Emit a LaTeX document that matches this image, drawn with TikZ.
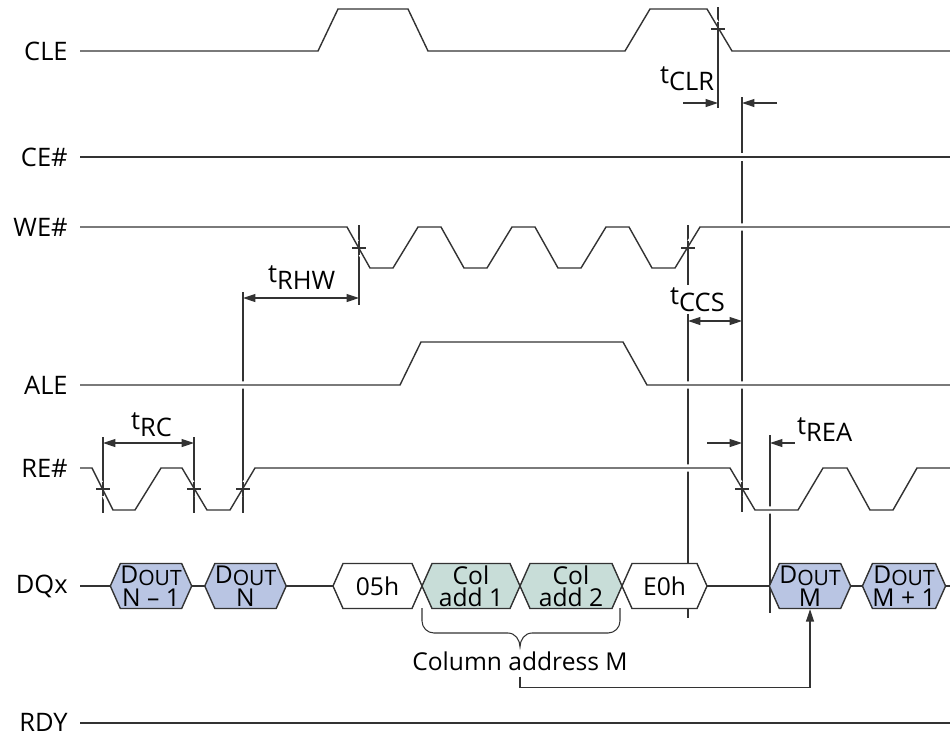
\documentclass[tikz,border=0pt]{standalone}
\usepackage{fontspec}
\setmainfont{Open Sans}
\usetikzlibrary{arrows.meta, shapes.symbols, positioning}

\definecolor{doutblue}{HTML}{B9C5E3}
\definecolor{colteal}{HTML}{C8DDD8}
\definecolor{wire}{HTML}{333333}

\newcommand{\tparm}[1]{t\raisebox{-4.5pt}{#1}}
\newcommand{\dout}[1]{D\raisebox{-1.5pt}{\fontsize{12}{12}\selectfont OUT}\\[0.8pt]#1}

\begin{document}
\begin{tikzpicture}[
    x=0.02cm, y=-0.02cm,
    font=\fontsize{14.5}{15}\selectfont,
    sig/.style = {line width=0.8pt, draw=wire, preaction={draw=white, line width=4pt}},
    guide/.style = {line width=0.6pt, draw=wire},
    tickmark/.style = {line width=0.6pt, draw=wire},
    dim/.style = {line width=0.6pt, draw=wire, >={Triangle[length=7pt, width=4.5pt]}},
    signame/.style = {anchor=east, inner sep=0pt},
    tlabel/.style = {anchor=base west, inner sep=1pt, fill=white},
    dbox/.style = {signal, signal to=west and east, signal pointer angle=132,
                   draw=wire, line width=0.8pt, inner sep=0pt, align=center,
                   minimum height=0.9cm, minimum width=#1*0.02cm,
                   font=\fontsize{14}{12.5}\selectfont},
    dout/.style = {dbox=#1, fill=doutblue},
    coladd/.style = {dbox=#1, fill=colteal},
    cmd/.style = {dbox=#1, fill=white}
]
    \useasboundingbox (0,0) rectangle (950,735);

    % Signal names
    \node[signame] (cle) at (68,51) {CLE};
    \node[signame] (ce) at (68,157) {CE\#};
    \node[signame] (we) at (68,227) {WE\#};
    \node[signame] (ale) at (68,385) {ALE};
    \node[signame] (re) at (68,468) {RE\#};
    \node[signame] (dq) at (68,586) {DQx};
    \node[signame] (rdy) at (68,722) {RDY};

    % Timing guides
    \draw[guide] (718,7) -- (718,108);
    \draw[guide] (742,97) -- (742,512);
    \draw[guide] (359,225) -- (359,305);
    \draw[guide] (243,292) -- (243,513);
    \draw[guide] (688,225) -- (688,618);
    \draw[guide] (103,437) -- (103,513);
    \draw[guide] (194,437) -- (194,513);
    \draw[guide] (770,435) -- (770,613);

    % Waveforms
    \draw[sig] (80,51) -- (318,51) -- (338,9) -- (408,9) -- (428,51) -- (625,51)
        -- (650,9) -- (707,9) -- (732,51) -- (950,51);
    \draw[sig] (80,157) -- (950,157);
    \draw[sig] (80,227) foreach \a in {347,441,535,629} {
        -- (\a,227) -- ++(23,41) -- ++(23,0) -- ++(25,-41) } -- (950,227);
    \draw[sig] (80,385) -- (400,385) -- (421,342) -- (623,342) -- (647,385) -- (950,385);
    \draw[sig] (80,468) -- (92,468) -- (113,510) -- (135,510) -- (161,468) -- (182,468)
        -- (207,510) -- (230,510) -- (255,468) -- (730,468) -- (755,510) -- (798,510)
        -- (823,468) -- (847,468) -- (870,510) -- (893,510) -- (917,468) -- (950,468);
    \draw[sig] (80,723) -- (950,723);

    % Crossing ticks
    \foreach \x/\y in {718/29, 359/248, 688/248, 103/489, 194/489, 243/489, 742/489} {
        \draw[tickmark] (\x-7,\y) -- (\x+7,\y) (\x,\y-7) -- (\x,\y+7);
    }

    % Data bus
    \draw[line width=0.8pt, draw=wire] (80,586) -- (950,586);
    \node[dout=78] (b1) at (151,586) {\dout{N -- 1}};
    \node[dout=79] (b2) at (245.5,586) {\dout{N}};
    \node[cmd=89] (b3) at (377.5,586) {05h};
    \node[coladd=98] (b4) at (471,586) {Col\\add 1};
    \node[coladd=102] (b5) at (571,586) {Col\\add 2};
    \node[cmd=85] (b6) at (664.5,586) {E0h};
    \node[dout=76] (b7) at (810,586) {\dout{M}};
    \node[dout=78] (b8) at (904,586) {\dout{M + 1}};

    % Column address brace
    \draw[line width=0.6pt, draw=wire] (422,608) -- (422,621) to[out=-90, in=180] (434,633)
        -- (508,633) to[out=0, in=90] (520,647) to[out=90, in=180] (532,633)
        -- (608,633) to[out=0, in=-90] (620,621) -- (620,608);
    \node[font=\fontsize{14}{15}\selectfont] (coladdr) at (520,661) {Column address M};
    \draw[dim, ->] (coladdr.south) -- ++(0,11) -| (b7.south);

    % Timing parameters
    \draw[dim, ->] (683,103) -- (718,103);
    \draw[dim, ->] (777,103) -- (742,103);
    \node[tlabel] (tclr) at (658,83) {\tparm{CLR}};

    \draw[dim, <->] (243,298) -- (359,298);
    \node[tlabel] (trhw) at (266,282) {\tparm{RHW}};

    \draw[dim, <->] (688,321) -- (742,321);
    \node[tlabel] (tccs) at (668,304) {\tparm{CCS}};

    \draw[dim, <->] (103,443) -- (194,443);
    \node[tlabel] (trc) at (129,429) {\tparm{RC}};

    \draw[dim, ->] (707,443) -- (742,443);
    \draw[dim, ->] (800,443) -- (770,443);
    \node[tlabel] (trea) at (795,434) {\tparm{REA}};

\end{tikzpicture}
\end{document}
